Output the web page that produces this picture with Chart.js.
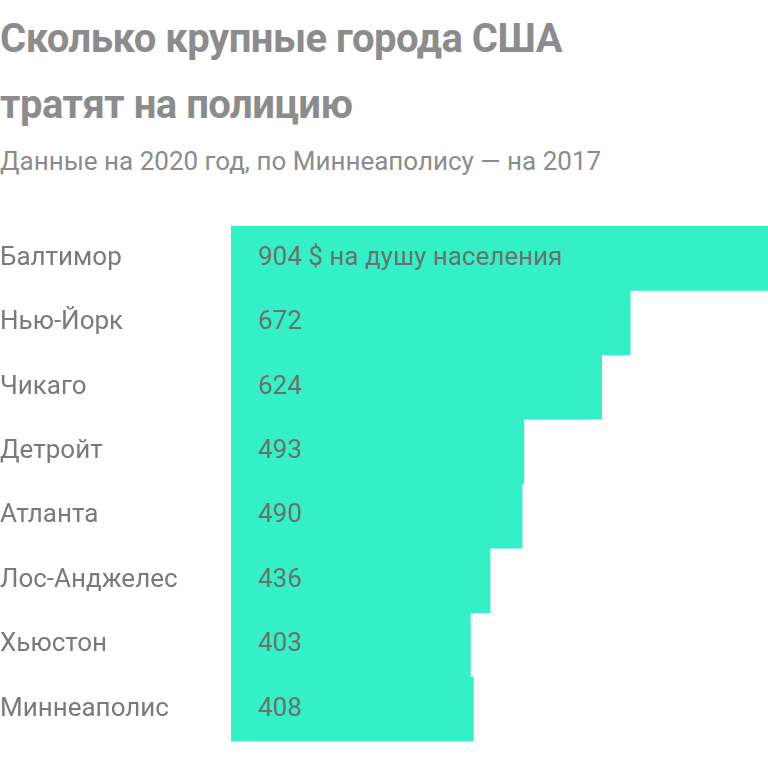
<!DOCTYPE html>
<html><head><meta charset="utf-8">
<script src="https://cdn.jsdelivr.net/npm/chart.js@4"></script>
<style>
body{margin:0;width:768px;height:757px;overflow:hidden;background:#fff;font-family:Roboto,sans-serif;position:relative}
#t{position:absolute;left:0;top:6px;font-size:40px;font-weight:bold;color:#8c8c8c;line-height:66px;letter-spacing:-0.5px}
#s{position:absolute;left:0;top:146px;font-size:26px;color:#8c8c8c}
#c{position:absolute;left:0;top:0}
</style></head><body>
<div id="t">Сколько крупные города США<br>тратят на полицию</div>
<div id="s">Данные на 2020 год, по Миннеаполису — на 2017</div>
<canvas id="c" width="768" height="757"></canvas>
<script>
const cities = ["Балтимор","Нью-Йорк","Чикаго","Детройт","Атланта","Лос-Анджелес","Хьюстон","Миннеаполис"];
const spending = [904,672,624,493,490,436,403,408];
const valueLabels = ["904 $ на душу населения","672","624","493","490","436","403","408"];

const valuePlugin = {
    id: "values",
    afterDatasetsDraw(chart) {
        const ctx = chart.ctx;
        const meta = chart.getDatasetMeta(0);
        ctx.save();
        ctx.font = "26px Roboto";
        ctx.fillStyle = "#6e6e6e";
        ctx.textBaseline = "middle";
        meta.data.forEach((bar, i) => {
            ctx.fillText(valueLabels[i], chart.chartArea.left + 27, bar.y);
        });
        ctx.restore();
    }
};

new Chart(document.getElementById("c").getContext("2d"), {
    type: "bar",
    data: {
        labels: cities,
        datasets: [{
            data: spending,
            backgroundColor: "#33f0c6",
            categoryPercentage: 1,
            barPercentage: 1
        }]
    },
    options: {
        indexAxis: "y",
        responsive: false,
        animation: false,
        layout: { padding: { top: 226, bottom: 4, left: 0, right: 0 } },
        plugins: { legend: { display: false }, tooltip: { enabled: false } },
        scales: {
            x: { display: false, min: 0, max: 904 },
            y: {
                grid: { display: false },
                border: { display: false },
                ticks: { color: "#7a7a7a", font: { size: 26, family: "Roboto" }, crossAlign: "far", padding: 0 },
                afterFit(scale) { scale.width = 231; }
            }
        }
    },
    plugins: [valuePlugin]
});
</script>
</body></html>
